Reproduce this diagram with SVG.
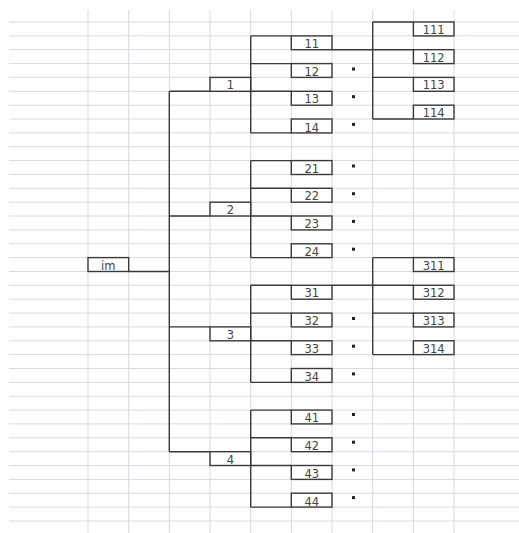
<svg xmlns="http://www.w3.org/2000/svg" width="519" height="533" viewBox="0 0 519 533">
<style>
.grid line{stroke:#d5dae2;stroke-width:1}
.box rect{fill:#fff;stroke:#3a3a3a;stroke-width:1.4}
.box text{font-family:"DejaVu Sans",sans-serif;font-size:11.5px;fill:#444;text-anchor:middle}
.conn path{fill:none;stroke:#3a3a3a;stroke-width:1.4}
.dot{fill:#222}
</style>
<defs>
<rect id="d" class="dot" width="3" height="3"/>
</defs>
<rect width="519" height="533" fill="#fff"/>
<g class="grid">
<line x1="9" y1="22" x2="519" y2="22"/><line x1="9" y1="35.9" x2="519" y2="35.9"/><line x1="9" y1="49.7" x2="519" y2="49.7"/><line x1="9" y1="63.6" x2="519" y2="63.6"/><line x1="9" y1="77.4" x2="519" y2="77.4"/><line x1="9" y1="91.3" x2="519" y2="91.3"/><line x1="9" y1="105.2" x2="519" y2="105.2"/><line x1="9" y1="119" x2="519" y2="119"/><line x1="9" y1="132.9" x2="519" y2="132.9"/><line x1="9" y1="146.7" x2="519" y2="146.7"/><line x1="9" y1="160.6" x2="519" y2="160.6"/><line x1="9" y1="174.5" x2="519" y2="174.5"/><line x1="9" y1="188.3" x2="519" y2="188.3"/><line x1="9" y1="202.2" x2="519" y2="202.2"/><line x1="9" y1="216" x2="519" y2="216"/><line x1="9" y1="229.9" x2="519" y2="229.9"/><line x1="9" y1="243.8" x2="519" y2="243.8"/><line x1="9" y1="257.6" x2="519" y2="257.6"/><line x1="9" y1="271.5" x2="519" y2="271.5"/><line x1="9" y1="285.3" x2="519" y2="285.3"/><line x1="9" y1="299.2" x2="519" y2="299.2"/><line x1="9" y1="313.1" x2="519" y2="313.1"/><line x1="9" y1="326.9" x2="519" y2="326.9"/><line x1="9" y1="340.8" x2="519" y2="340.8"/><line x1="9" y1="354.6" x2="519" y2="354.6"/><line x1="9" y1="368.5" x2="519" y2="368.5"/><line x1="9" y1="382.4" x2="519" y2="382.4"/><line x1="9" y1="396.2" x2="519" y2="396.2"/><line x1="9" y1="410.1" x2="519" y2="410.1"/><line x1="9" y1="423.9" x2="519" y2="423.9"/><line x1="9" y1="437.8" x2="519" y2="437.8"/><line x1="9" y1="451.7" x2="519" y2="451.7"/><line x1="9" y1="465.5" x2="519" y2="465.5"/><line x1="9" y1="479.4" x2="519" y2="479.4"/><line x1="9" y1="493.2" x2="519" y2="493.2"/><line x1="9" y1="507.1" x2="519" y2="507.1"/><line x1="9" y1="521" x2="519" y2="521"/>
<line x1="88" y1="10" x2="88" y2="533"/><line x1="128.7" y1="10" x2="128.7" y2="533"/><line x1="169.3" y1="10" x2="169.3" y2="533"/><line x1="210" y1="10" x2="210" y2="533"/><line x1="250.7" y1="10" x2="250.7" y2="533"/><line x1="291.3" y1="10" x2="291.3" y2="533"/><line x1="332" y1="10" x2="332" y2="533"/><line x1="372.7" y1="10" x2="372.7" y2="533"/><line x1="413.4" y1="10" x2="413.4" y2="533"/><line x1="454" y1="10" x2="454" y2="533"/>
</g>
<g class="conn">
<path d="M128.7 271.5H169.3M169.3 91.3V451.7M169.3 91.3H210M169.3 216H210M169.3 326.9H210M169.3 451.7H210"/>
<path d="M250.7 35.9V132.9M250.7 35.9H291.3M250.7 63.6H291.3M250.7 91.3H291.3M250.7 132.9H291.3"/>
<path d="M250.7 160.6V257.6M250.7 160.6H291.3M250.7 188.3H291.3M250.7 216H291.3M250.7 257.6H291.3"/>
<path d="M250.7 285.3V382.4M250.7 285.3H291.3M250.7 313.1H291.3M250.7 340.8H291.3M250.7 382.4H291.3"/>
<path d="M250.7 410.1V507.1M250.7 410.1H291.3M250.7 437.8H291.3M250.7 465.5H291.3M250.7 507.1H291.3"/>
<path d="M332 49.7H413.4M372.7 22V119M372.7 22H413.4M372.7 77.4H413.4M372.7 119H413.4"/>
<path d="M332 285.3H413.4M372.7 257.6V354.6M372.7 257.6H413.4M372.7 313.1H413.4M372.7 354.6H413.4"/>
</g>
<g id="n-im" class="box"><rect x="88" y="257.6" width="40.7" height="13.9"/><text x="108.3" y="269.6">im</text></g>
<g id="n-1" class="box"><rect x="210" y="77.4" width="40.7" height="13.9"/><text x="230.3" y="89.4">1</text></g>
<g id="n-2" class="box"><rect x="210" y="202.2" width="40.7" height="13.8"/><text x="230.3" y="214.1">2</text></g>
<g id="n-3" class="box"><rect x="210" y="326.9" width="40.7" height="13.9"/><text x="230.3" y="338.9">3</text></g>
<g id="n-4" class="box"><rect x="210" y="451.7" width="40.7" height="13.8"/><text x="230.3" y="463.6">4</text></g>
<g id="n-11" class="box"><rect x="291.3" y="35.9" width="40.7" height="13.8"/><text x="311.7" y="47.9">11</text></g>
<g id="n-12" class="box"><rect x="291.3" y="63.6" width="40.7" height="13.8"/><text x="311.7" y="75.6">12</text></g>
<g id="n-13" class="box"><rect x="291.3" y="91.3" width="40.7" height="13.9"/><text x="311.7" y="103.3">13</text></g>
<g id="n-14" class="box"><rect x="291.3" y="119" width="40.7" height="13.9"/><text x="311.7" y="131.5">14</text></g>
<g id="n-21" class="box"><rect x="291.3" y="160.6" width="40.7" height="13.9"/><text x="311.7" y="172.6">21</text></g>
<g id="n-22" class="box"><rect x="291.3" y="188.3" width="40.7" height="13.9"/><text x="311.7" y="200.3">22</text></g>
<g id="n-23" class="box"><rect x="291.3" y="216" width="40.7" height="13.9"/><text x="311.7" y="228">23</text></g>
<g id="n-24" class="box"><rect x="291.3" y="243.8" width="40.7" height="13.8"/><text x="311.7" y="255.7">24</text></g>
<g id="n-31" class="box"><rect x="291.3" y="285.3" width="40.7" height="13.9"/><text x="311.7" y="297.3">31</text></g>
<g id="n-32" class="box"><rect x="291.3" y="313.1" width="40.7" height="13.8"/><text x="311.7" y="325">32</text></g>
<g id="n-33" class="box"><rect x="291.3" y="340.8" width="40.7" height="13.8"/><text x="311.7" y="352.8">33</text></g>
<g id="n-34" class="box"><rect x="291.3" y="368.5" width="40.7" height="13.9"/><text x="311.7" y="380.5">34</text></g>
<g id="n-41" class="box"><rect x="291.3" y="410.1" width="40.7" height="13.8"/><text x="311.7" y="422">41</text></g>
<g id="n-42" class="box"><rect x="291.3" y="437.8" width="40.7" height="13.9"/><text x="311.7" y="449.8">42</text></g>
<g id="n-43" class="box"><rect x="291.3" y="465.5" width="40.7" height="13.9"/><text x="311.7" y="477.5">43</text></g>
<g id="n-44" class="box"><rect x="291.3" y="493.2" width="40.7" height="13.9"/><text x="311.7" y="505.5">44</text></g>
<g id="n-111" class="box"><rect x="413.4" y="22" width="40.6" height="13.9"/><text x="433.7" y="34">111</text></g>
<g id="n-112" class="box"><rect x="413.4" y="49.7" width="40.6" height="13.9"/><text x="433.7" y="61.7">112</text></g>
<g id="n-113" class="box"><rect x="413.4" y="77.4" width="40.6" height="13.9"/><text x="433.7" y="89.4">113</text></g>
<g id="n-114" class="box"><rect x="413.4" y="105.2" width="40.6" height="13.8"/><text x="433.7" y="117.1">114</text></g>
<g id="n-311" class="box"><rect x="413.4" y="257.6" width="40.6" height="13.9"/><text x="433.7" y="269.6">311</text></g>
<g id="n-312" class="box"><rect x="413.4" y="285.3" width="40.6" height="13.9"/><text x="433.7" y="297.3">312</text></g>
<g id="n-313" class="box"><rect x="413.4" y="313.1" width="40.6" height="13.8"/><text x="433.7" y="325">313</text></g>
<g id="n-314" class="box"><rect x="413.4" y="340.8" width="40.6" height="13.8"/><text x="433.7" y="352.8">314</text></g>
<g id="dots">
<use href="#d" x="352" y="67.5"/><use href="#d" x="352" y="95.2"/><use href="#d" x="352" y="122.9"/>
<use href="#d" x="352" y="164.5"/><use href="#d" x="352" y="192.2"/><use href="#d" x="352" y="219.9"/><use href="#d" x="352" y="247.7"/>
<use href="#d" x="352" y="317"/><use href="#d" x="352" y="344.7"/><use href="#d" x="352" y="372.4"/>
<use href="#d" x="352" y="413"/><use href="#d" x="352" y="440.7"/><use href="#d" x="352" y="468.4"/><use href="#d" x="352" y="496.1"/>
</g>
</svg>
